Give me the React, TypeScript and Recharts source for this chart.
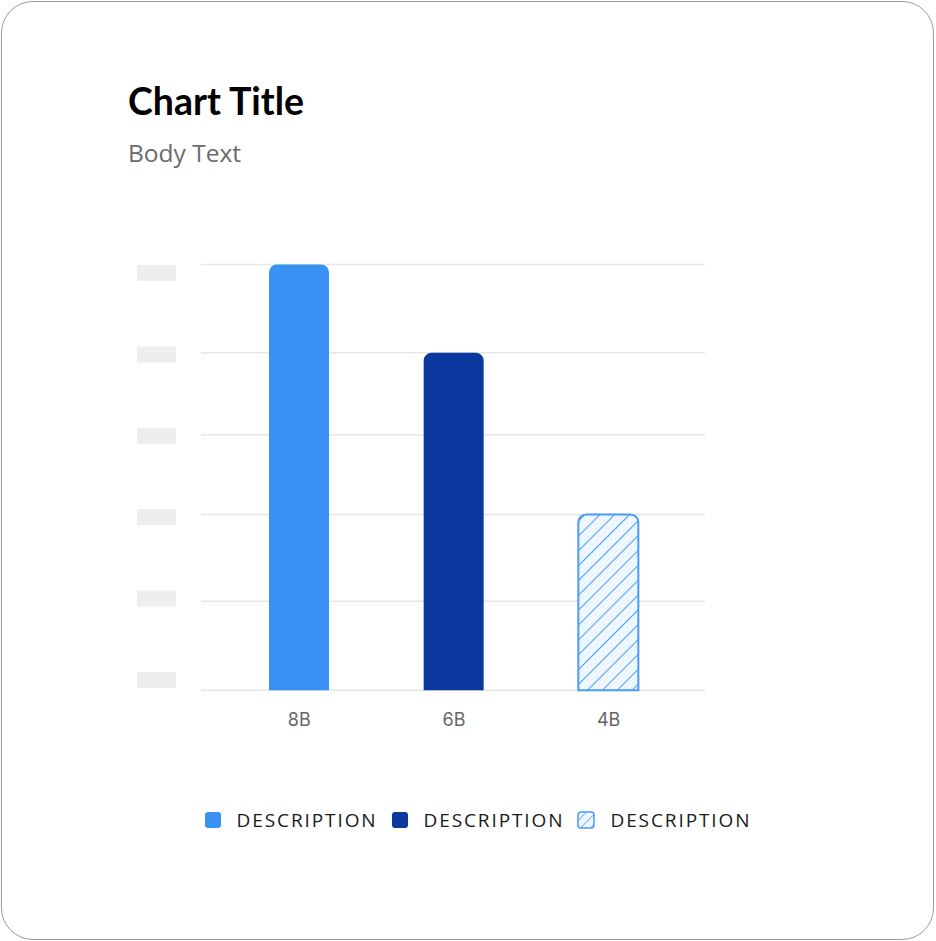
import { BarChart, Bar, Cell, XAxis, YAxis, CartesianGrid, Legend } from "recharts";

const categories = ["8B", "6B", "4B"];
const values = [100, 79.3, 41.3];
const yTicks = [0, 20.9, 41.3, 60, 79.3, 100];
const legendLabels = ["DESCRIPTION", "DESCRIPTION", "DESCRIPTION"];

const LIGHT_BLUE = "#3892f3";
const NAVY = "#0b389f";
const HATCH_LINE = "#4a9cf5";
const HATCH_BG = "#eef6ff";

const PLOT_TOP = 264.5;
const PLOT_BOTTOM = 690.3;

const data = categories.map((name, i) => ({ name, value: values[i] }));

const FONT = "'Open Sans', 'Noto Sans', sans-serif";

// grey blocks stand in for the y tick labels, evenly spaced
const YPlaceholder = ({ x, index }: any) => {
  const step = (PLOT_BOTTOM - PLOT_TOP - 18.8) / (yTicks.length - 1);
  const cy = PLOT_BOTTOM - 10.3 - index * step;
  return <rect x={x - 39} y={cy - 8} width={39} height={16} fill="#eeeeee" />;
};

const XTick = ({ x, y, payload }: any) => (
  <text x={x} y={y} dy="0.71em" textAnchor="middle" fill="#666" fontSize={18} fontFamily="Inter, sans-serif">
    {payload.value}
  </text>
);

const LegendIcon = ({ i }: { i: number }) => {
  if (i === 2) {
    return (
      <svg width={18} height={18} style={{ display: "block" }}>
        <defs>
          <pattern id="hatchSmall" patternUnits="userSpaceOnUse" width={7} height={7} patternTransform="rotate(45)">
            <rect width={7} height={7} fill={HATCH_BG} />
            <line x1={0} y1={0} x2={0} y2={7} stroke={HATCH_LINE} strokeWidth={1.5} />
          </pattern>
        </defs>
        <rect x={1} y={1} width={16} height={16} rx={3} fill="url(#hatchSmall)" stroke={HATCH_LINE} strokeWidth={1.5} />
      </svg>
    );
  }
  return (
    <svg width={18} height={18} style={{ display: "block" }}>
      <rect x={1} y={1} width={16} height={16} rx={3} fill={i === 0 ? LIGHT_BLUE : NAVY} />
    </svg>
  );
};

const CustomLegend = () => (
  <div
    style={{
      display: "flex",
      justifyContent: "center",
      alignItems: "center",
      height: 40,
      paddingLeft: 19,
      gap: 13,
      fontFamily: FONT,
    }}
  >
    {legendLabels.map((label, i) => (
      <div key={i} style={{ display: "flex", alignItems: "center", gap: 15 }}>
        <LegendIcon i={i} />
        <span style={{ fontSize: 19, letterSpacing: 1.9, color: "#1a1a1a" }}>{label}</span>
      </div>
    ))}
  </div>
);

export default function App() {
  return (
    <div style={{ position: "absolute", left: 0, top: 0, width: 936, height: 941, background: "#fff", fontFamily: FONT }}>
      <div
        style={{
          position: "absolute",
          left: 1,
          top: 1,
          width: 933,
          height: 939,
          boxSizing: "border-box",
          border: "1.5px solid #9b9b9b",
          borderRadius: 32,
        }}
      />
      <div
        style={{
          position: "absolute",
          left: 128,
          top: 79,
          fontSize: 37.5,
          fontWeight: 700,
          color: "#000",
          lineHeight: "44px",
          fontFamily: "Lato, sans-serif",
        }}
      >
        Chart Title
      </div>
      <div style={{ position: "absolute", left: 128, top: 137, fontSize: 24.5, color: "#6b6b6b", lineHeight: "32px" }}>
        Body Text
      </div>
      <div style={{ position: "absolute", left: 0, top: 0 }}>
        <BarChart
          width={936}
          height={941}
          data={data}
          margin={{ top: PLOT_TOP, right: 231, bottom: 101, left: 120 }}
        >
          <defs>
            <pattern id="hatch" patternUnits="userSpaceOnUse" width={10.5} height={10.5} patternTransform="rotate(45)">
              <rect width={10.5} height={10.5} fill={HATCH_BG} />
              <line x1={0} y1={0} x2={0} y2={10.5} stroke={HATCH_LINE} strokeWidth={2} />
            </pattern>
          </defs>
          <CartesianGrid vertical={false} stroke="#e6e6e6" strokeWidth={1.5} />
          <XAxis
            dataKey="name"
            axisLine={false}
            tickLine={false}
            tickSize={0}
            tickMargin={23}
            height={109.7}
            padding={{ left: 21, right: 19 }}
            tick={<XTick />}
          />
          <YAxis
            domain={[0, 100]}
            ticks={yTicks}
            interval={0}
            axisLine={false}
            tickLine={false}
            tickSize={0}
            tickMargin={25}
            width={81}
            tick={<YPlaceholder />}
          />
          <Legend verticalAlign="bottom" content={<CustomLegend />} wrapperStyle={{ left: 0, width: 936, height: 40 }} />
          <Bar dataKey="value" barSize={60} radius={[8, 8, 0, 0]} isAnimationActive={false}>
            {data.map((d, i) => (
              <Cell
                key={d.name}
                fill={i === 0 ? LIGHT_BLUE : i === 1 ? NAVY : "url(#hatch)"}
                stroke={i === 2 ? HATCH_LINE : "none"}
                strokeWidth={i === 2 ? 2 : 0}
              />
            ))}
          </Bar>
        </BarChart>
      </div>
    </div>
  );
}
